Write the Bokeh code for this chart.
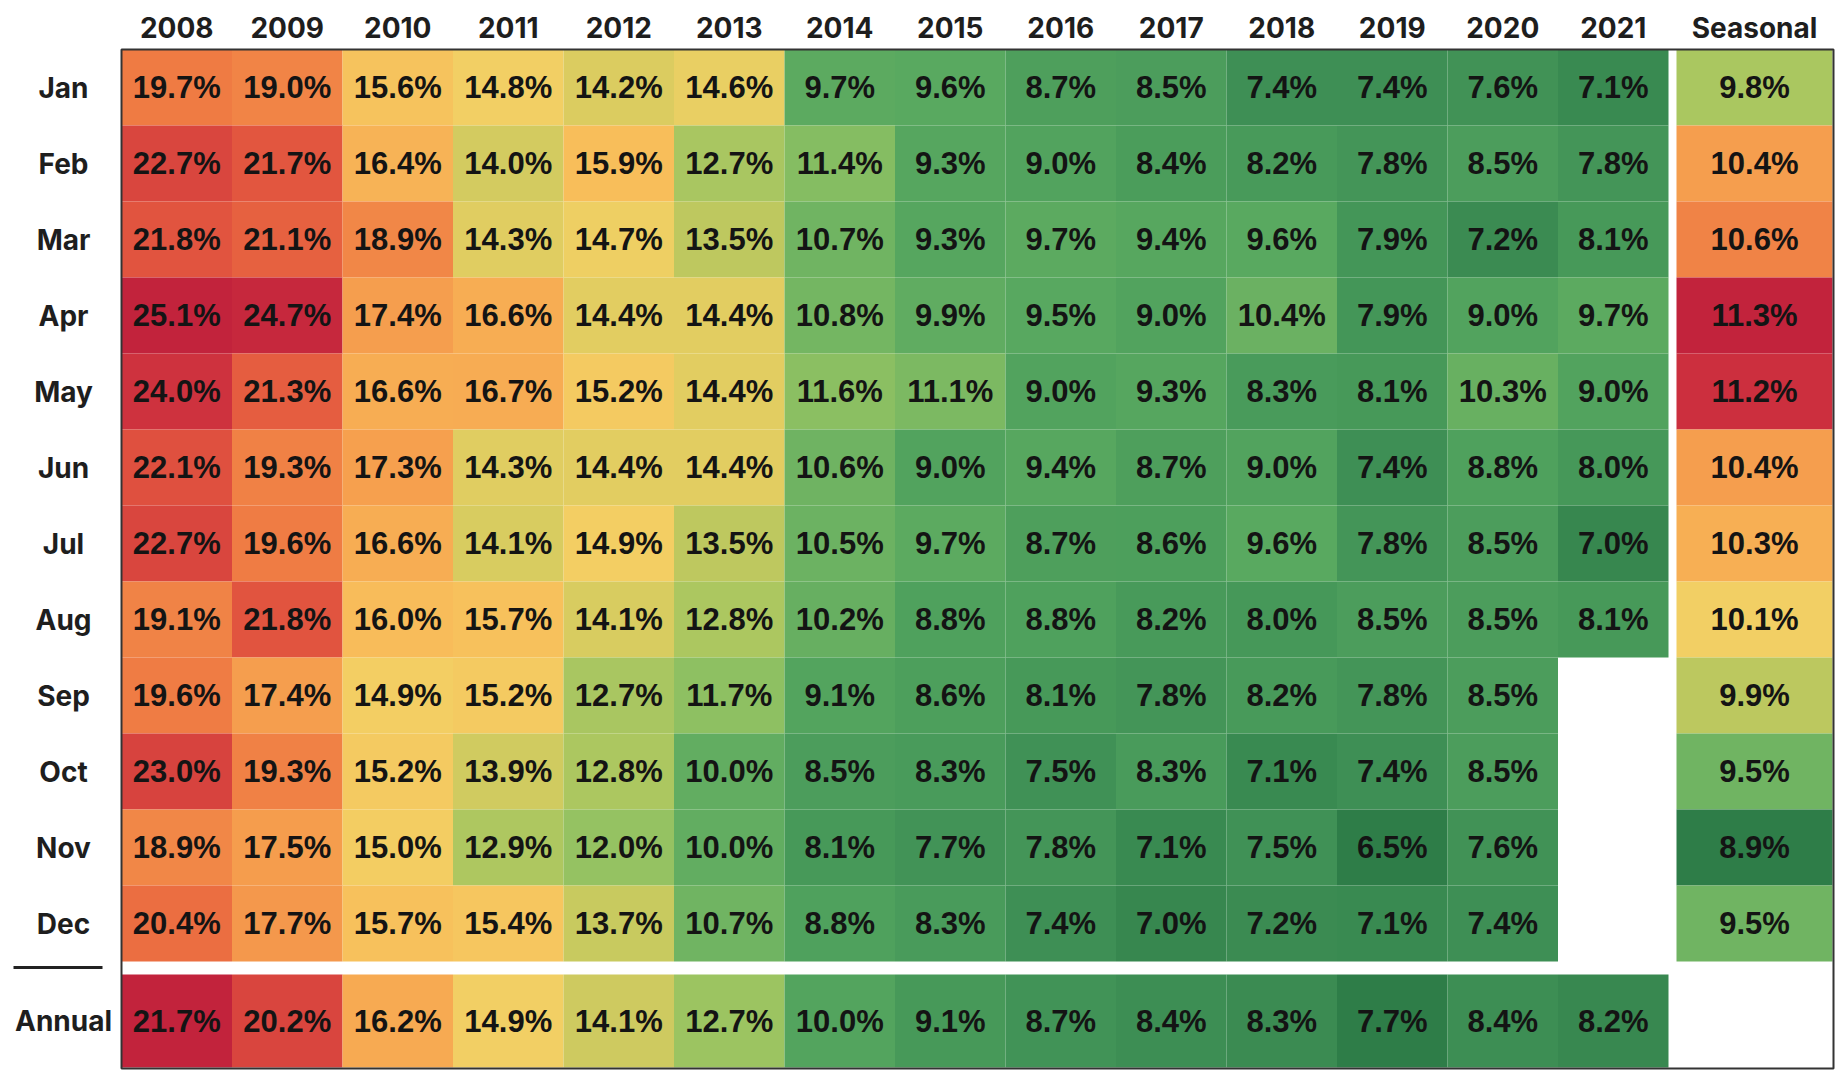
import numpy as np
from bokeh.plotting import figure
from bokeh.models import ColumnDataSource, Range1d, LinearColorMapper
from bokeh.transform import transform
from bokeh.core.properties import value
from bokeh.embed import file_html
from bokeh.resources import INLINE

# ---------------- data ----------------
years = ["2008", "2009", "2010", "2011", "2012", "2013", "2014",
         "2015", "2016", "2017", "2018", "2019", "2020", "2021"]
months = ["Jan", "Feb", "Mar", "Apr", "May", "Jun",
          "Jul", "Aug", "Sep", "Oct", "Nov", "Dec"]

jan = [19.7, 19.0, 15.6, 14.8, 14.2, 14.6, 9.7, 9.6, 8.7, 8.5, 7.4, 7.4, 7.6, 7.1]
feb = [22.7, 21.7, 16.4, 14.0, 15.9, 12.7, 11.4, 9.3, 9.0, 8.4, 8.2, 7.8, 8.5, 7.8]
mar = [21.8, 21.1, 18.9, 14.3, 14.7, 13.5, 10.7, 9.3, 9.7, 9.4, 9.6, 7.9, 7.2, 8.1]
apr = [25.1, 24.7, 17.4, 16.6, 14.4, 14.4, 10.8, 9.9, 9.5, 9.0, 10.4, 7.9, 9.0, 9.7]
may = [24.0, 21.3, 16.6, 16.7, 15.2, 14.4, 11.6, 11.1, 9.0, 9.3, 8.3, 8.1, 10.3, 9.0]
jun = [22.1, 19.3, 17.3, 14.3, 14.4, 14.4, 10.6, 9.0, 9.4, 8.7, 9.0, 7.4, 8.8, 8.0]
jul = [22.7, 19.6, 16.6, 14.1, 14.9, 13.5, 10.5, 9.7, 8.7, 8.6, 9.6, 7.8, 8.5, 7.0]
aug = [19.1, 21.8, 16.0, 15.7, 14.1, 12.8, 10.2, 8.8, 8.8, 8.2, 8.0, 8.5, 8.5, 8.1]
sep = [19.6, 17.4, 14.9, 15.2, 12.7, 11.7, 9.1, 8.6, 8.1, 7.8, 8.2, 7.8, 8.5, None]
oct_ = [23.0, 19.3, 15.2, 13.9, 12.8, 10.0, 8.5, 8.3, 7.5, 8.3, 7.1, 7.4, 8.5, None]
nov = [18.9, 17.5, 15.0, 12.9, 12.0, 10.0, 8.1, 7.7, 7.8, 7.1, 7.5, 6.5, 7.6, None]
dec = [20.4, 17.7, 15.7, 15.4, 13.7, 10.7, 8.8, 8.3, 7.4, 7.0, 7.2, 7.1, 7.4, None]

annual = [21.7, 20.2, 16.2, 14.9, 14.1, 12.7, 10.0, 9.1, 8.7, 8.4, 8.3, 7.7, 8.4, 8.2]
seasonal = [9.8, 10.4, 10.6, 11.3, 11.2, 10.4, 10.3, 10.1, 9.9, 9.5, 8.9, 9.5]

monthly = [jan, feb, mar, apr, may, jun, jul, aug, sep, oct_, nov, dec]

# ---------------- colour scale (green - yellow - red) ----------------
stops = [
    (0.00, "#2E7D48"), (0.05, "#3E8F55"), (0.11, "#4A9C5B"), (0.18, "#58A860"),
    (0.25, "#70B462"), (0.30, "#88BE62"), (0.36, "#A3C661"), (0.42, "#BEC85F"),
    (0.46, "#D9CC60"), (0.50, "#F2D064"), (0.55, "#F8BF5B"), (0.60, "#F7A851"),
    (0.65, "#F4964B"), (0.70, "#F18647"), (0.75, "#EE7742"), (0.84, "#E1543F"),
    (0.90, "#D7423E"), (0.96, "#CC2F3E"), (1.00, "#C2233C"),
]


def hex2rgb(h):
    return [int(h[i:i + 2], 16) for i in (1, 3, 5)]


st = np.array([s[0] for s in stops])
rgb = np.array([hex2rgb(s[1]) for s in stops], dtype=float)
palette = []
for g in np.linspace(0, 1, 256):
    r = np.interp(g, st, rgb[:, 0])
    gg = np.interp(g, st, rgb[:, 1])
    b = np.interp(g, st, rgb[:, 2])
    palette.append("#%02x%02x%02x" % (int(round(r)), int(round(gg)), int(round(b))))

mapper = LinearColorMapper(palette=palette, low=0.0, high=1.0)


def norm3(v, lo, mid, hi):
    if v <= mid:
        return 0.5 * (v - lo) / (mid - lo)
    return 0.5 + 0.5 * (v - mid) / (hi - mid)


# ---------------- layout (pixel geometry -> data units) ----------------
W, H = 1845, 1080
COL_PX, ROW_PX = 110.5, 76.0
X0 = -0.5 - 121 / COL_PX          # data x at left canvas edge
Y0 = -0.5 - 49 / ROW_PX           # data y at top canvas edge


def px_x(px):
    return X0 + px / COL_PX


def px_y(py):
    return Y0 + py / ROW_PX


seas_l, seas_r = px_x(1676), px_x(1832)
seas_c, seas_w = (seas_l + seas_r) / 2, seas_r - seas_l
ann_t, ann_b = px_y(974), px_y(1067)
ann_c, ann_h = (ann_t + ann_b) / 2, ann_b - ann_t

p = figure(width=W, height=H, x_range=Range1d(X0, X0 + W / COL_PX),
           y_range=Range1d(Y0 + H / ROW_PX, Y0),
           output_backend="svg", toolbar_location=None, min_border=0,
           x_axis_type=None, y_axis_type=None)
p.grid.visible = False
p.outline_line_color = None
p.background_fill_color = "white"
p.border_fill_color = "white"

# main monthly cells
all_main = [v for row in monthly for v in row if v is not None]
lo_m, hi_m, mid_m = min(all_main), max(all_main), 14.8
cx, cy, ct, cl, cw, ch = [], [], [], [], [], []
for r, row in enumerate(monthly):
    for c, v in enumerate(row):
        if v is None:
            continue
        cx.append(c); cy.append(r); cw.append(1.0); ch.append(1.0)
        ct.append(norm3(v, lo_m, mid_m, hi_m)); cl.append("%.1f%%" % v)

# annual row
lo_a, hi_a, mid_a = min(annual), max(annual), 14.9
for c, v in enumerate(annual):
    cx.append(c); cy.append(ann_c); cw.append(1.0); ch.append(ann_h)
    ct.append(norm3(v, lo_a, mid_a, hi_a)); cl.append("%.1f%%" % v)

# seasonal column
lo_s, hi_s, mid_s = min(seasonal), max(seasonal), 10.1
for r, v in enumerate(seasonal):
    cx.append(seas_c); cy.append(r); cw.append(seas_w); ch.append(1.0)
    ct.append(norm3(v, lo_s, mid_s, hi_s)); cl.append("%.1f%%" % v)

src = ColumnDataSource(dict(x=cx, y=cy, t=ct, label=cl, w=cw, h=ch))
p.rect(x="x", y="y", width="w", height="h", source=src,
       fill_color=transform("t", mapper), line_color=None)
p.text(x="x", y="y", text="label", source=src,
       text_font=value("Liberation Sans"), text_font_style="bold",
       text_font_size="31px", text_align="center", text_baseline="middle",
       text_color="#141414")

# column headers
hx = list(range(len(years))) + [seas_c]
ht = years + ["Seasonal"]
hsrc = ColumnDataSource(dict(x=hx, y=[px_y(27)] * len(hx), text=ht))
p.text(x="x", y="y", text="text", source=hsrc,
       text_font=value("Inter"), text_font_style="bold",
       text_font_size="28px", text_align="center", text_baseline="middle",
       text_color="#1e1e1e")

# row labels
rx = [px_x(63)] * (len(months) + 1)
ry = list(range(len(months))) + [ann_c]
rsrc = ColumnDataSource(dict(x=rx, y=ry, text=months + ["Annual"]))
p.text(x="x", y="y", text="text", source=rsrc,
       text_font=value("Inter"), text_font_style="bold",
       text_font_size="28px", text_align="center", text_baseline="middle",
       text_color="#1e1e1e")

# separator line before "Annual"
p.segment(x0=[px_x(13)], y0=[px_y(967)], x1=[px_x(102)], y1=[px_y(967)],
          line_color="#222222", line_width=3)

# outer border
p.quad(left=[-0.5], right=[px_x(1833)], top=[-0.5], bottom=[px_y(1068)],
       fill_color=None, line_color="#333333", line_width=2)

open("out.html", "w").write(file_html(p, INLINE))
